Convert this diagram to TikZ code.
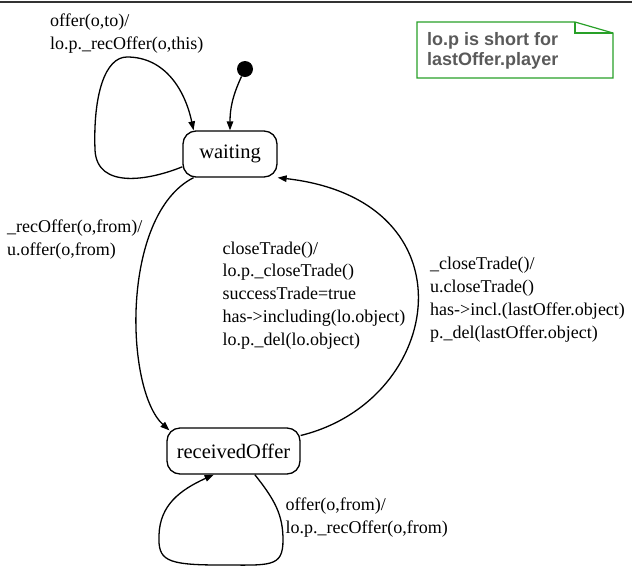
\documentclass[tikz,border=0pt]{standalone}
\usepackage{fontspec}
\setmainfont{Liberation Serif}
\newfontfamily\notefont{Liberation Sans}
\usetikzlibrary{arrows.meta}
\definecolor{notegreen}{RGB}{40,160,40}
\definecolor{notegray}{RGB}{90,90,90}
\definecolor{rulegray}{RGB}{50,50,50}
\begin{document}
\begin{tikzpicture}[x=1pt,y=-1pt,
  state/.style={draw, line width=1.3pt, rounded corners=13pt, inner sep=0pt,
    font=\fontsize{20.5}{24}\selectfont},
  lbl/.style={anchor=base west, inner sep=0pt, align=left,
    font=\fontsize{18}{22.7}\selectfont},
  tr/.style={line width=1.3pt, -{Triangle[length=9pt,width=6.5pt]}},
  line/.style={line width=1.3pt}
]
\useasboundingbox (0,0) rectangle (632,566);
\draw[rulegray, line width=1.5pt] (0,2) -- (632,2);

% states
\node[state, minimum width=94pt, minimum height=46pt] (waiting) at (230,154) {waiting};
\node[state, minimum width=133pt, minimum height=46pt] (received) at (233.5,451) {receivedOffer};
\node[circle, fill, inner sep=0pt, minimum size=16pt] (init) at (245,69) {};

% note
\draw[notegreen, line width=1.2pt] (417,22) -- (575,22) -- (613,33) -- (613,78) -- (417,78) -- cycle;
\draw[notegreen, line width=1.2pt] (575,22) -- (575,33) -- (613,33);
\node[anchor=base west, inner sep=0pt, align=left, text=notegray,
  font=\notefont\bfseries\fontsize{18}{20}\selectfont] (note) at (427,65) {lo.p is short for\\lastOffer.player};

% transitions
\draw[tr] (init) to[out=245,in=90] (waiting.north);
\draw[tr] (waiting.195) .. controls (150,180) and (97,190) .. (95,150)
  .. controls (93,95) and (105,57) .. (127,57)
  .. controls (165,57) and (185,90) .. (waiting.147);
\draw[tr] (waiting.213) .. controls (120,215) and (125,390) .. ([shift={(3,3)}]received.north west);
\draw[tr] (received.13.5) .. controls (445,400) and (475,200) .. (waiting.south east);
\draw[tr] (received.312) .. controls (275,500) and (283,515) .. (283,540)
  .. controls (283,568) and (270,565) .. (220,565)
  .. controls (165,565) and (158,560) .. (159,535)
  .. controls (160,505) and (180,490) .. (received.230);

% labels (anchored at the baseline of the last line)
\node[lbl] (lw) at (50,49) {offer(o,to)/\\lo.p.\_recOffer(o,this)};
\node[lbl] (lwr) at (7,255) {\_recOffer(o,from)/\\u.offer(o,from)};
\node[lbl] (lct) at (222.5,345) {closeTrade()/\\lo.p.\_closeTrade()\\successTrade=true\\has->including(lo.object)\\lo.p.\_del(lo.object)};
\node[lbl] (lrw) at (430,338) {\_closeTrade()/\\u.closeTrade()\\has->incl.(lastOffer.object)\\p.\_del(lastOffer.object)};
\node[lbl] (lrr) at (285.5,533) {offer(o,from)/\\lo.p.\_recOffer(o,from)};
\end{tikzpicture}
\end{document}
